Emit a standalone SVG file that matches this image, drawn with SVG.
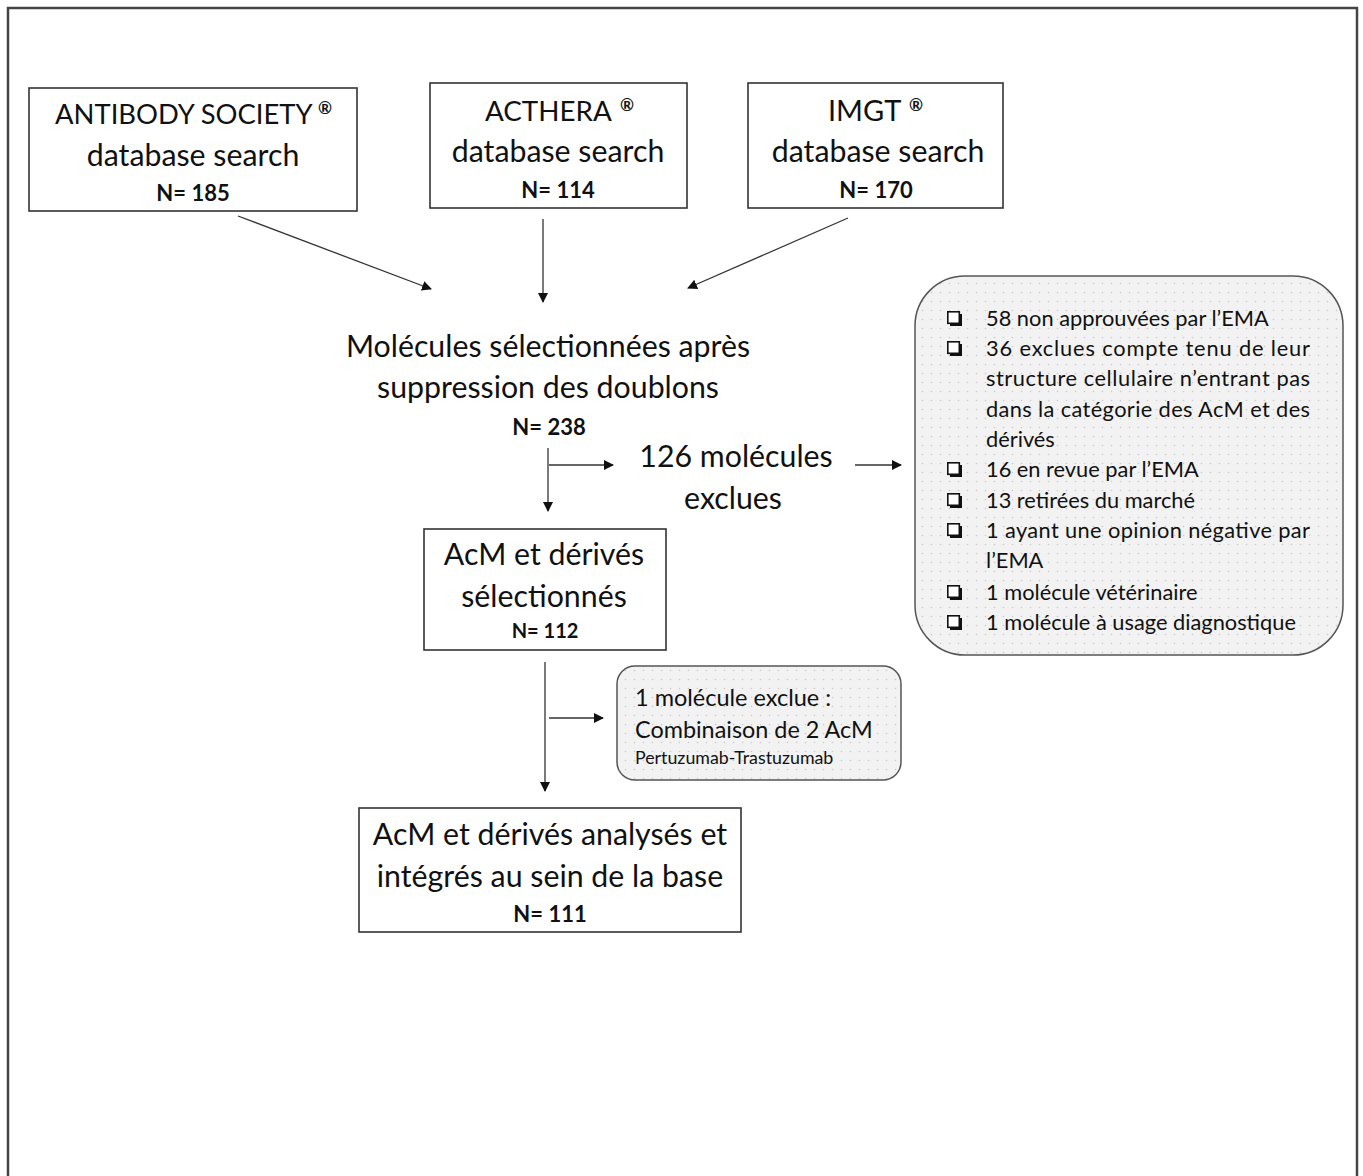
<svg xmlns="http://www.w3.org/2000/svg" width="1363" height="1176" viewBox="0 0 1363 1176">
<defs>
<style>
.t{font-family:Lato,"Open Sans","Liberation Sans",sans-serif;fill:#111;}
.big{font-size:30.3px;text-anchor:middle;}
.n{font-size:22px;font-weight:bold;text-anchor:middle;}
.n2{font-size:20px;font-weight:bold;text-anchor:middle;}
.li{font-size:21.8px;}
.sup{font-size:17px;font-weight:bold;}
.box{fill:#fff;stroke:#333;stroke-width:1.6;}
.rbox{fill:url(#dots);stroke:#555;stroke-width:1.5;}
.c{stroke:#333;stroke-width:1.3;fill:none;}
</style>
<pattern id="dots" width="9" height="9" patternUnits="userSpaceOnUse">
<rect width="9" height="9" fill="#f2f2f2"/>
<circle cx="4.5" cy="4.5" r="0.8" fill="#cacaca"/>
</pattern>
<marker id="ah" markerWidth="10" markerHeight="10" refX="9" refY="5" orient="auto" markerUnits="userSpaceOnUse">
<path d="M0,0 L10,5 L0,10 z" fill="#111"/>
</marker>
<g id="cb">
<rect x="3" y="3" width="12" height="12" fill="#111"/>
<rect x="0.8" y="0.8" width="11.5" height="11.5" fill="#fff" stroke="#111" stroke-width="1.6"/>
</g>
</defs>
<rect width="1363" height="1176" fill="#fff"/>
<path d="M8,1180 V8 H1357 V1180" fill="none" stroke="#444" stroke-width="2.5"/>

<g id="connectors">
<line class="c" x1="238" y1="216" x2="431" y2="289" marker-end="url(#ah)"/>
<line class="c" x1="543" y1="219" x2="543" y2="302" marker-end="url(#ah)"/>
<line class="c" x1="848" y1="218" x2="688" y2="288" marker-end="url(#ah)"/>
<line class="c" x1="548" y1="448" x2="548" y2="511" marker-end="url(#ah)"/>
<line class="c" x1="549" y1="465" x2="613" y2="465" marker-end="url(#ah)"/>
<line class="c" x1="855" y1="465" x2="901" y2="465" marker-end="url(#ah)"/>
<line class="c" x1="545" y1="662" x2="545" y2="791" marker-end="url(#ah)"/>
<line class="c" x1="549" y1="718" x2="603" y2="718" marker-end="url(#ah)"/>
</g>

<g id="antibody-society">
<rect class="box" x="29" y="88" width="328" height="123"/>
<text class="t" x="55" y="124" font-size="27.4">ANTIBODY SOCIETY</text>
<text class="t sup" x="318" y="114">®</text>
<text class="t big" x="193" y="166">database search</text>
<text class="t n" x="193" y="201">N= 185</text>
</g>

<g id="acthera">
<rect class="box" x="430" y="83" width="257" height="125"/>
<text class="t" x="485" y="121" font-size="27.8">ACTHERA</text>
<text class="t sup" x="620" y="111">®</text>
<text class="t big" x="558" y="162">database search</text>
<text class="t n" x="558" y="198">N= 114</text>
</g>

<g id="imgt">
<rect class="box" x="748" y="83" width="255" height="125"/>
<text class="t" x="828" y="121" font-size="29">IMGT</text>
<text class="t sup" x="909" y="111">®</text>
<text class="t big" x="878" y="162">database search</text>
<text class="t n" x="876" y="198">N= 170</text>
</g>

<g id="selected-238">
<text class="t big" x="548" y="357">Molécules sélectionnées après</text>
<text class="t big" x="548" y="398">suppression des doublons</text>
<text class="t n" x="549" y="435">N= 238</text>
</g>

<g id="excluded-126">
<text class="t big" x="736" y="467">126 molécules</text>
<text class="t big" x="733" y="509">exclues</text>
</g>

<g id="exclusion-details">
<rect class="rbox" x="915" y="276" width="428" height="379" rx="50" ry="50"/>
<use href="#cb" x="947" y="311"/>
<text class="t li" x="986" y="326">58 non approuvées par l’EMA</text>
<use href="#cb" x="947" y="341"/>
<text class="t li" x="986" y="356" textLength="324" lengthAdjust="spacing">36 exclues compte tenu de leur</text>
<text class="t li" x="986" y="386" textLength="324" lengthAdjust="spacing">structure cellulaire n’entrant pas</text>
<text class="t li" x="986" y="417" textLength="324" lengthAdjust="spacing">dans la catégorie des AcM et des</text>
<text class="t li" x="986" y="447">dérivés</text>
<use href="#cb" x="947" y="462"/>
<text class="t li" x="986" y="477">16 en revue par l’EMA</text>
<use href="#cb" x="947" y="493"/>
<text class="t li" x="986" y="508">13 retirées du marché</text>
<use href="#cb" x="947" y="523"/>
<text class="t li" x="986" y="538" textLength="324" lengthAdjust="spacing">1 ayant une opinion négative par</text>
<text class="t li" x="986" y="568">l’EMA</text>
<use href="#cb" x="947" y="585"/>
<text class="t li" x="986" y="600">1 molécule vétérinaire</text>
<use href="#cb" x="947" y="615"/>
<text class="t li" x="986" y="630">1 molécule à usage diagnostique</text>
</g>

<g id="selected-112">
<rect class="box" x="424" y="529" width="242" height="121"/>
<text class="t big" x="544" y="565">AcM et dérivés</text>
<text class="t big" x="544" y="607">sélectionnés</text>
<text class="t n2" x="545" y="638">N= 112</text>
</g>

<g id="excluded-1">
<rect class="rbox" x="617" y="666" width="284" height="114" rx="18" ry="18"/>
<text class="t" x="635" y="706" font-size="23.5">1 molécule exclue :</text>
<text class="t" x="635" y="738" font-size="23.4">Combinaison de 2 AcM</text>
<text class="t" x="635" y="764" font-size="17.8">Pertuzumab-Trastuzumab</text>
</g>

<g id="analysed-111">
<rect class="box" x="359" y="808" width="382" height="124"/>
<text class="t big" x="550" y="845">AcM et dérivés analysés et</text>
<text class="t big" x="550" y="887">intégrés au sein de la base</text>
<text class="t n" x="550" y="922">N= 111</text>
</g>
</svg>
